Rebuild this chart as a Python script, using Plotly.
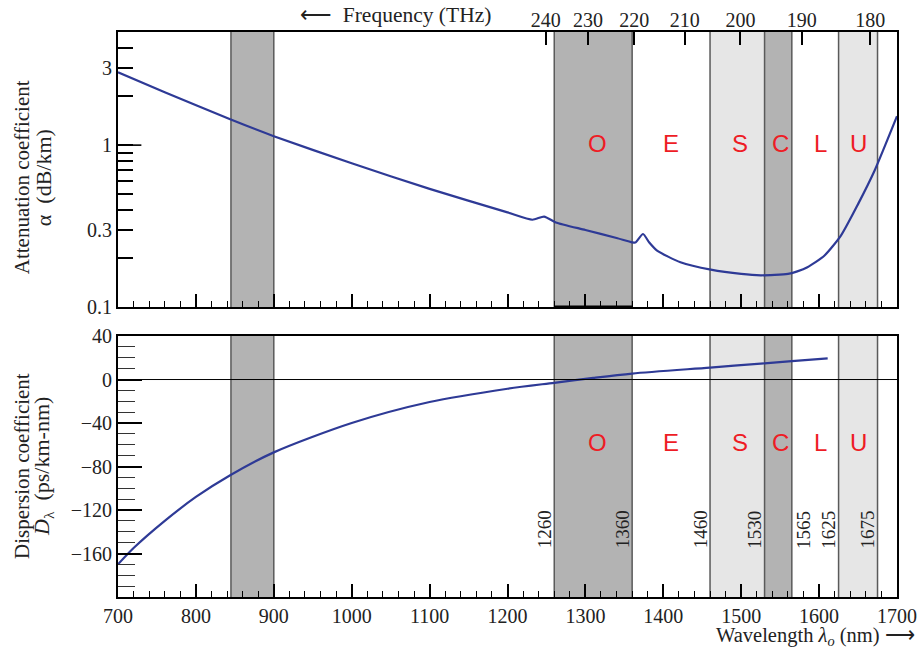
import plotly.graph_objects as go
import math

# Fibre attenuation (dB/km) against wavelength (nm)
atten_wl = [700, 760, 844, 900, 1000, 1100, 1200, 1232, 1247, 1262, 1300, 1340,
            1360, 1364, 1374, 1382, 1392, 1422, 1461, 1500, 1525, 1560, 1572,
            1585, 1607, 1628, 1650, 1671, 1700]
atten_db = [2.82, 2.12, 1.445, 1.136, 0.772, 0.537, 0.384, 0.346, 0.362, 0.333, 0.299, 0.267,
            0.251, 0.250, 0.2825, 0.25, 0.223, 0.189, 0.170, 0.160, 0.157, 0.160, 0.166,
            0.176, 0.208, 0.276, 0.432, 0.692, 1.51]

# Chromatic dispersion (ps/km-nm) against wavelength (nm)
disp_wl = [700, 720, 760, 800, 844, 900, 1000, 1100, 1200, 1260, 1310, 1360, 1460, 1530, 1565, 1611]
disp_ps = [-170, -155, -130, -108, -88, -67, -40, -20.7, -8.5, -3, 1.5, 5.5, 11.0, 14.9, 17.0, 19.5]

# Transmission bands (nm): start, end, shade
bands = [(845, 900, "dark"), (1260, 1360, "dark"), (1460, 1530, "light"),
         (1530, 1565, "dark"), (1625, 1675, "light")]
band_names = ["O", "E", "S", "C", "L", "U"]
band_name_x = [1315, 1410, 1498, 1550, 1602, 1651]
edge_labels = [1260, 1360, 1460, 1530, 1565, 1625, 1675]
freq_thz = [240, 230, 220, 210, 200, 190, 180]

XR = [700, 1700]
C_NM_THZ = 299792.458

SERIF = "Liberation Serif"
INK = "#222222"
CURVE = "#2e3a96"
EDGE = "#5a5a5a"
FILL = {"dark": "#b3b3b3", "light": "#e6e6e6"}

fig = go.Figure()

fig.add_trace(go.Scatter(x=atten_wl, y=atten_db, mode="lines", xaxis="x", yaxis="y",
                         line=dict(color=CURVE, width=2.2, shape="spline", smoothing=0.6),
                         showlegend=False, hoverinfo="skip"))
fig.add_trace(go.Scatter(x=disp_wl, y=disp_ps, mode="lines", xaxis="x2", yaxis="y2",
                         line=dict(color=CURVE, width=2.2, shape="spline", smoothing=0.8),
                         showlegend=False, hoverinfo="skip"))
# carrier for the frequency scale along the top
fig.add_trace(go.Scatter(x=XR, y=[None, None], mode="lines", xaxis="x3", yaxis="y",
                         showlegend=False, hoverinfo="skip"))

shapes = []
for xref, yref in (("x", "y domain"), ("x2", "y2 domain")):
    for (a, b, shade) in bands:
        shapes.append(dict(type="rect", xref=xref, yref=yref, x0=a, x1=b, y0=0, y1=1,
                           fillcolor=FILL[shade], line=dict(width=0), layer="below"))
    edges = sorted({e for (a, b, _) in bands for e in (a, b)})
    for e in edges:
        shapes.append(dict(type="line", xref=xref, yref=yref, x0=e, x1=e, y0=0, y1=1,
                           line=dict(color=EDGE, width=1.5), layer="below"))

# zero line of the dispersion panel
shapes.append(dict(type="line", xref="x2 domain", yref="y2", x0=0, x1=1, y0=0, y1=0,
                   line=dict(color="black", width=1)))
# heavier base under the O band
shapes.append(dict(type="line", xref="x", yref="y domain", x0=1260, x1=1360, y0=0, y1=0,
                   line=dict(color="black", width=3)))
# long tick at 1 dB/km
ylog = [-1, math.log10(5)]
f1 = (0 - ylog[0]) / (ylog[1] - ylog[0])
shapes.append(dict(type="line", xref="x domain", yref="y domain", x0=0, x1=0.03, y0=f1, y1=f1,
                   line=dict(color="black", width=1.6)))

annotations = []
red = dict(family="Liberation Sans", size=24, color="#ee1c25")
for name, xc in zip(band_names, band_name_x):
    annotations.append(dict(x=xc, y=0.596, xref="x", yref="y domain", text=name, showarrow=False,
                            xanchor="center", yanchor="middle", font=red))
    annotations.append(dict(x=xc, y=-58, xref="x2", yref="y2", text=name, showarrow=False,
                            xanchor="center", yanchor="middle", font=red))
for e in edge_labels:
    right = (e == 1565)
    annotations.append(dict(x=e, y=-138, xref="x2", yref="y2", text=str(e), showarrow=False,
                            textangle=-90, xanchor="left" if right else "right",
                            yanchor="middle", xshift=-1 if right else 3,
                            font=dict(family=SERIF, size=19, color=INK)))

label = dict(family=SERIF, size=21, color=INK)
annotations += [
    dict(x=1181, y=1.0, xref="x", yref="y domain", text="⟵  Frequency (THz)",
         showarrow=False, xanchor="right", yanchor="bottom", yshift=3,
         font=dict(family=SERIF, size=21.5, color=INK)),
    dict(x=1.0, y=0, xref="paper", yref="paper", text="Wavelength <i>λ<sub>o</sub></i> (nm) ⟶",
         showarrow=False, xanchor="right", yanchor="top", xshift=19, yshift=-26,
         borderpad=0, font=dict(family=SERIF, size=20.5, color=INK)),
    dict(x=-0.1232, y=0.743, xref="paper", yref="paper", text="Attenuation coefficient",
         showarrow=False, textangle=-90, xanchor="center", yanchor="middle", font=label),
    dict(x=-0.0963, y=0.743, xref="paper", yref="paper", text="α  (dB/km)",
         showarrow=False, textangle=-90, xanchor="center", yanchor="middle",
         font=dict(family=SERIF, size=22, color=INK)),
    dict(x=-0.1232, y=0.232, xref="paper", yref="paper", text="Dispersion coefficient",
         showarrow=False, textangle=-90, xanchor="center", yanchor="middle", font=label),
    dict(x=-0.0963, y=0.232, xref="paper", yref="paper", text="<i>D</i><sub>λ</sub>  (ps/km-nm)",
         showarrow=False, textangle=-90, xanchor="center", yanchor="middle",
         font=dict(family=SERIF, size=22, color=INK)),
]

tickfont = dict(family=SERIF, size=20, color=INK)
xcommon = dict(range=XR, ticks="inside", tickvals=list(range(700, 1701, 100)), ticklen=13,
               tickwidth=1.6, tickcolor="black", automargin=False,
               minor=dict(dtick=20, tick0=700, ticks="inside", ticklen=6, tickwidth=1,
                          tickcolor="black"),
               showline=True, linecolor="black", linewidth=2, mirror=True,
               showgrid=False, zeroline=False, tickfont=tickfont)

fig.update_layout(
    width=920, height=648,
    margin=dict(l=118, r=23, t=32, b=51, autoexpand=False),
    paper_bgcolor="white", plot_bgcolor="white",
    xaxis=dict(anchor="y", showticklabels=False, **xcommon),
    xaxis2=dict(anchor="y2", showticklabels=True, **xcommon),
    xaxis3=dict(overlaying="x", anchor="y", side="top", range=XR, showgrid=False, zeroline=False,
                tickvals=[C_NM_THZ / f for f in freq_thz], ticktext=[str(f) for f in freq_thz],
                ticks="inside", ticklen=13, tickwidth=1.6, tickcolor="black", automargin=False,
                showline=False, tickfont=tickfont),
    yaxis=dict(domain=[0.5133, 1], type="log", range=ylog, showgrid=False, zeroline=False,
               tickvals=[0.1, 0.3, 1, 3], ticktext=["0.1", "0.3", "1", "3"], automargin=False,
               ticks="inside", ticklen=15, tickwidth=1.6, tickcolor="black",
               minor=dict(tickvals=[0.2, 0.4, 0.5, 0.6, 0.7, 0.8, 0.9, 2, 4], ticks="inside",
                          ticklen=15, tickwidth=1.6, tickcolor="black"),
               showline=True, linecolor="black", linewidth=2, mirror=True, tickfont=tickfont),
    yaxis2=dict(domain=[0, 0.4619], range=[-200, 40], showgrid=False, zeroline=False,
                tickvals=list(range(-160, 41, 40)), automargin=False,
                ticks="inside", ticklen=24, tickwidth=1.6, tickcolor="black",
                minor=dict(dtick=10, tick0=0, ticks="inside", ticklen=17, tickwidth=1.4,
                           tickcolor="#333333"),
                showline=True, linecolor="black", linewidth=2, mirror=True, tickfont=tickfont),
    shapes=shapes,
    annotations=annotations,
)

fig.write_html("out.html")
